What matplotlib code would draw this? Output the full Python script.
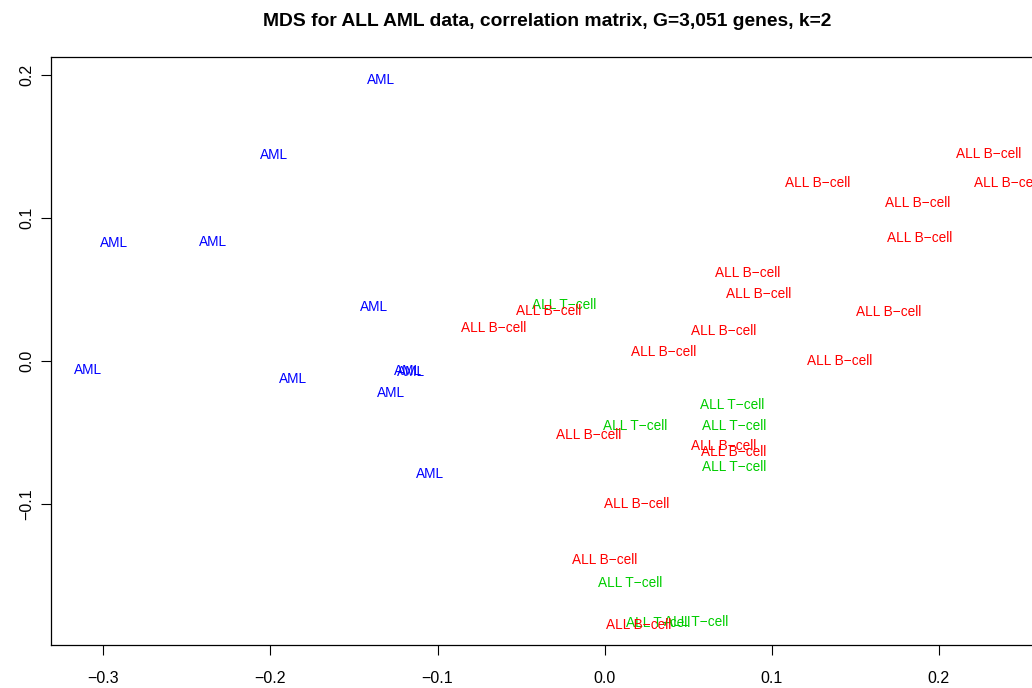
import matplotlib
matplotlib.use("Agg")
import matplotlib.pyplot as plt
from matplotlib.ticker import FuncFormatter

plt.rcParams["font.family"] = ["Liberation Sans", "DejaVu Sans"]

# Classical MDS coordinates (k=2) of the ALL/AML training samples
aml_x = [-0.1338, -0.1978, -0.2936, -0.2343, -0.1380, -0.3092, -0.1865,
         -0.1177, -0.1159, -0.1278, -0.1045]
aml_y = [0.1973, 0.1449, 0.0834, 0.0841, 0.0393, -0.0047, -0.0110,
         -0.0060, -0.0065, -0.0213, -0.0774]

bcell_x = [0.2300, 0.1277, 0.2408, 0.1876, 0.1888, 0.0858, 0.0924,
           -0.0333, 0.1702, -0.0662, 0.0714, 0.0355, 0.1408, -0.0093,
           0.0714, 0.0774, 0.0194, 0.0002, 0.0206]
bcell_y = [0.1456, 0.1260, 0.1260, 0.1120, 0.0869, 0.0631, 0.0484,
           0.0365, 0.0358, 0.0240, 0.0219, 0.0079, 0.0016, -0.0502,
           -0.0579, -0.0620, -0.0990, -0.1381, -0.1833]

tcell_x = [-0.0243, 0.0763, 0.0182, 0.0775, 0.0774, 0.0152, 0.0320, 0.0547]
tcell_y = [0.0407, -0.0292, -0.0439, -0.0439, -0.0725, -0.1542, -0.1815, -0.1808]

groups = [
    ("ALL T\u2212cell", tcell_x, tcell_y, "#00CD00"),
    ("ALL B\u2212cell", bcell_x, bcell_y, "#FF0000"),
    ("AML", aml_x, aml_y, "#0000FF"),
]

x_ticks = [-0.3, -0.2, -0.1, 0.0, 0.1, 0.2]
y_ticks = [-0.1, 0.0, 0.1, 0.2]

title = "MDS for ALL AML data, correlation matrix, G=3,051 genes, k=2"

W, H = 1032, 688
fig = plt.figure(figsize=(W / 100, H / 100), dpi=100)

# plot region in pixels (right edge runs past the figure border)
left_px, right_px, top_px, bottom_px = 51.2, 1043.7, 57.2, 645.4
ax = fig.add_axes([left_px / W, 1 - bottom_px / H,
                   (right_px - left_px) / W, (bottom_px - top_px) / H])

# axis ranges: data range extended by 4% on each side
all_x = aml_x + bcell_x + tcell_x
all_y = aml_y + bcell_y + tcell_y
xr = max(all_x) - min(all_x)
yr = max(all_y) - min(all_y)
ax.set_xlim(min(all_x) - 0.04 * xr, max(all_x) + 0.04 * xr)
ax.set_ylim(min(all_y) - 0.04 * yr, max(all_y) + 0.04 * yr)

for label, xs, ys, col in groups:
    for xv, yv in zip(xs, ys):
        ax.text(xv, yv, label, color=col, fontsize=9.8,
                ha="center", va="center_baseline")

fmt = FuncFormatter(lambda v, pos: f"{v:.1f}".replace("-", "\u2212"))
ax.set_xticks(x_ticks)
ax.set_yticks(y_ticks)
ax.xaxis.set_major_formatter(fmt)
ax.yaxis.set_major_formatter(fmt)

for sp in ax.spines.values():
    sp.set_linewidth(0.9)
    sp.set_color("black")

ax.tick_params(axis="both", direction="out", length=7.2, width=0.8,
               labelsize=11.5, color="black")
ax.tick_params(axis="x", pad=11.0)
ax.tick_params(axis="y", pad=5.0, labelrotation=90)
for lab in ax.get_yticklabels():
    lab.set_va("center")

cx = (left_px + right_px) / 2 / W
fig.text(cx, 1 - 25.5 / H, title, ha="center", va="baseline",
         fontsize=13.85, fontweight="bold")

fig.savefig("out.png", dpi=100)
